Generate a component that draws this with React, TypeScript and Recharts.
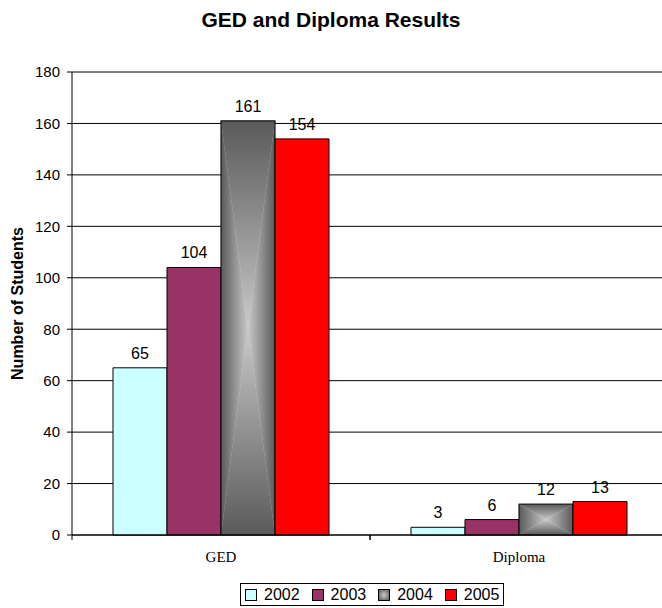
import React from 'react';
import { BarChart, Bar, XAxis, YAxis, CartesianGrid, LabelList, Legend } from 'recharts';

const categories = ['GED', 'Diploma'];
const years = ['2002', '2003', '2004', '2005'];
const values2002 = [65, 3];
const values2003 = [104, 6];
const values2004 = [161, 12];
const values2005 = [154, 13];
const yTicks = [0, 20, 40, 60, 80, 100, 120, 140, 160, 180];

const data = categories.map((c, i) => ({
  name: c,
  '2002': values2002[i],
  '2003': values2003[i],
  '2004': values2004[i],
  '2005': values2005[i],
}));

const colors: Record<string, string> = {
  '2002': '#CCFFFF',
  '2003': '#993366',
  '2004': 'url(#gLeft)',
  '2005': '#FF0000',
};

const FONT = 'Arial, "Liberation Sans", Helvetica, sans-serif';

function BoxGradientBar(props: any) {
  const { x, y, width, height } = props;
  if (!width || !height) return null;
  const cx = x + width / 2;
  const cy = y + height / 2;
  const x2 = x + width;
  const y2 = y + height;
  return (
    <g>
      <polygon points={`${x},${y} ${x2},${y} ${cx},${cy}`} fill="url(#gTop)" stroke="url(#gTop)" strokeWidth={0.3} />
      <polygon points={`${x},${y2} ${x2},${y2} ${cx},${cy}`} fill="url(#gBottom)" stroke="url(#gBottom)" strokeWidth={0.3} />
      <polygon points={`${x},${y} ${x},${y2} ${cx},${cy}`} fill="url(#gLeft)" stroke="url(#gLeft)" strokeWidth={0.3} />
      <polygon points={`${x2},${y} ${x2},${y2} ${cx},${cy}`} fill="url(#gRight)" stroke="url(#gRight)" strokeWidth={0.3} />
      <rect x={x} y={y} width={width} height={height} fill="none" stroke="#000" strokeWidth={1} />
    </g>
  );
}

function XTick(props: any) {
  const { x, y, payload } = props;
  const off = payload.offset || 0;
  const axisY = y - 8;
  return (
    <g>
      <line x1={x - off} y1={axisY} x2={x - off} y2={axisY + 5} stroke="#000" />
      <line x1={x + off} y1={axisY} x2={x + off} y2={axisY + 5} stroke="#000" />
      <text x={x} y={axisY + 27} textAnchor="middle" fontFamily='"Liberation Serif", "Times New Roman", serif' fontSize={15} fill="#000">
        {payload.value}
      </text>
    </g>
  );
}

function YLabel(props: any) {
  const { viewBox } = props;
  const cx = 17;
  const cy = viewBox.y + viewBox.height / 2;
  return (
    <text x={cx} y={cy} transform={`rotate(-90, ${cx}, ${cy})`} textAnchor="middle" dominantBaseline="central" fontFamily={FONT} fontWeight="bold" fontSize={16} fill="#000">
      Number of Students
    </text>
  );
}

function LegendContent() {
  return (
    <div style={{ display: 'inline-flex', alignItems: 'center', border: '1px solid #000', padding: '2px 4px 2px 4px', background: '#fff', fontFamily: FONT, fontSize: 16, lineHeight: '17px', color: '#000' }}>
      {years.map((yr, i) => (
        <div key={yr} style={{ display: 'flex', alignItems: 'center', marginRight: i < years.length - 1 ? 12 : 0 }}>
          <span style={{ display: 'inline-block', width: 10, height: 10, border: '1px solid #000', marginRight: 7, background: yr === '2004' ? 'radial-gradient(#c8c8c8, #5a5a5a)' : colors[yr] }} />
          <span>{yr}</span>
        </div>
      ))}
    </div>
  );
}

export default function App() {
  return (
    <div style={{ position: 'fixed', left: 0, top: 0, width: 662, height: 608, overflow: 'hidden', background: '#fff' }}>
      <div style={{ position: 'absolute', left: 0, top: 8, width: 662, textAlign: 'center', fontFamily: FONT, fontWeight: 'bold', fontSize: 21, color: '#000' }}>
        GED and Diploma Results
      </div>
      <div style={{ position: 'absolute', left: 0, top: 0 }}>
        <BarChart width={700} height={608} data={data} margin={{ top: 72, right: 32, bottom: 43, left: 0 }} barCategoryGap={41} barGap={0}>
          <defs>
            <linearGradient id="gTop" x1="0" y1="0" x2="0" y2="1">
              <stop offset="0" stopColor="#5a5a5a" />
              <stop offset="1" stopColor="#c8c8c8" />
            </linearGradient>
            <linearGradient id="gBottom" x1="0" y1="1" x2="0" y2="0">
              <stop offset="0" stopColor="#5a5a5a" />
              <stop offset="1" stopColor="#c8c8c8" />
            </linearGradient>
            <linearGradient id="gLeft" x1="0" y1="0" x2="1" y2="0">
              <stop offset="0" stopColor="#5a5a5a" />
              <stop offset="1" stopColor="#c8c8c8" />
            </linearGradient>
            <linearGradient id="gRight" x1="1" y1="0" x2="0" y2="0">
              <stop offset="0" stopColor="#5a5a5a" />
              <stop offset="1" stopColor="#c8c8c8" />
            </linearGradient>
          </defs>
          <CartesianGrid vertical={false} stroke="#000" strokeDasharray="" />
          <XAxis dataKey="name" type="category" stroke="#000" tickLine={false} tick={<XTick />} interval={0} height={30} />
          <YAxis
            width={72}
            domain={[0, 180]}
            ticks={yTicks}
            interval={0}
            stroke="#000"
            tickSize={5}
            tickMargin={7}
            tick={{ fill: '#000', fontSize: 15, fontFamily: FONT }}
            label={<YLabel />}
          />
          <Legend verticalAlign="middle" layout="horizontal" align="center" content={<LegendContent />} wrapperStyle={{ left: 240, top: 583, width: 'auto', height: 'auto' }} />
          {years.map((yr) => (
            <Bar
              key={yr}
              dataKey={yr}
              fill={colors[yr]}
              stroke="#000"
              strokeWidth={1}
              isAnimationActive={false}
              shape={yr === '2004' ? (p: any) => <BoxGradientBar {...p} /> : undefined}
            >
              <LabelList dataKey={yr} position="top" offset={9} fill="#000" fontSize={16} fontFamily={FONT} />
            </Bar>
          ))}
        </BarChart>
      </div>
    </div>
  );
}
